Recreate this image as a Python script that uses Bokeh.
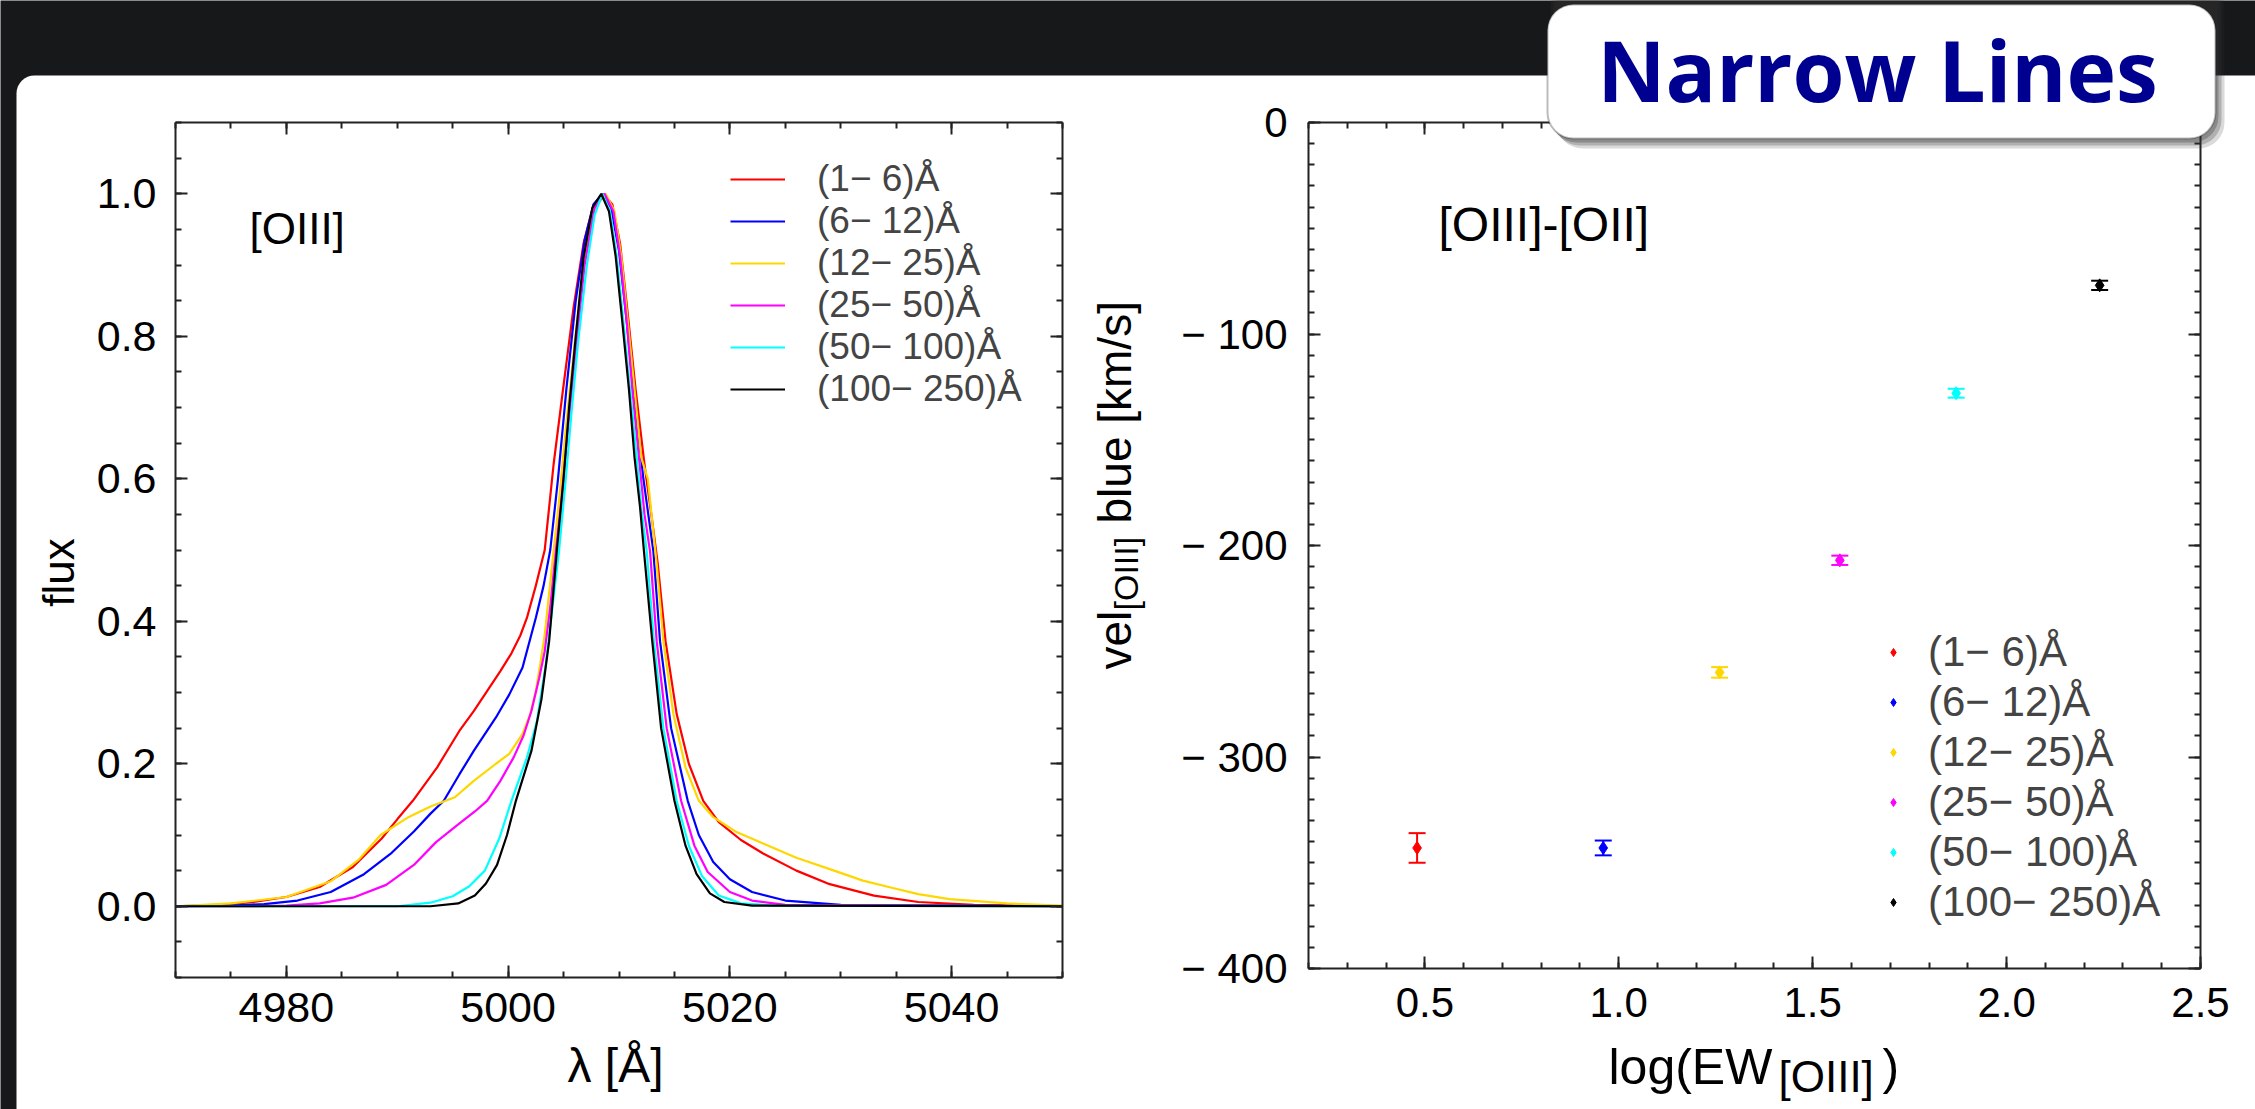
import numpy as np
from bokeh.plotting import figure
from bokeh.models import (ColumnDataSource, Legend, LegendItem, LinearAxis, FixedTicker,
                          Label, BoxAnnotation, Whisker, TeeHead, Range1d, NumeralTickFormatter)
from bokeh.embed import file_html
from bokeh.resources import INLINE

FONT = "Liberation Sans"
DARK = "#17181a"

# ---------------- data ----------------
bin_labels = ["(1− 6)Å", "(6− 12)Å", "(12− 25)Å", "(25− 50)Å", "(50− 100)Å", "(100− 250)Å"]
colors = ["#ff0000", "#0000ff", "#ffd700", "#ff00ff", "#00ffff", "#000000"]

# left panel: normalised [OIII] profiles (wavelength in Angstrom, flux)
wl_1_6 = [4970, 4974, 4977, 4980, 4983, 4986, 4988.6, 4990, 4991.4, 4993.6, 4995.6, 4996.9,
          4998.1, 4999.3, 5000.3, 5001.1, 5001.7, 5002.5, 5003.3, 5004.1, 5004.95, 5005.9,
          5006.8, 5007.7, 5008.6, 5009.4, 5010.1, 5010.8, 5011.5, 5012.3, 5013.0, 5013.5,
          5014.2, 5015.2, 5016.3, 5017.6, 5019, 5021, 5023, 5026, 5029, 5033, 5037, 5042, 5050]
fx_1_6 = [0.0, 0.002, 0.006, 0.013, 0.027, 0.055, 0.095, 0.122, 0.148, 0.195, 0.246, 0.274,
          0.302, 0.330, 0.355, 0.38, 0.405, 0.45, 0.50, 0.62, 0.725, 0.84,
          0.93, 0.985, 1.0, 0.985, 0.93, 0.83, 0.725, 0.62, 0.54, 0.48,
          0.372, 0.27, 0.20, 0.148, 0.118, 0.093, 0.074, 0.05, 0.031, 0.015, 0.006, 0.002, 0.0]

wl_6_12 = [4970, 4975, 4978, 4981, 4984, 4987, 4989.5, 4991.5, 4993, 4994.2, 4995.6, 4996.9,
           4998.9, 5000.1, 5001.3, 5002.5, 5003.2, 5003.8, 5004.5, 5005.25, 5006.1, 5006.9,
           5007.7, 5008.5, 5009.3, 5010.0, 5010.7, 5011.3, 5012.2, 5013.1, 5013.7, 5014.7,
           5016.2, 5017.2, 5018.5, 5020, 5022, 5025, 5030, 5050]
fx_6_12 = [0.0, 0.001, 0.003, 0.008, 0.02, 0.045, 0.075, 0.105, 0.13, 0.148, 0.185, 0.218,
           0.265, 0.297, 0.335, 0.405, 0.45, 0.50, 0.60, 0.725, 0.85, 0.935,
           0.985, 1.0, 0.98, 0.92, 0.82, 0.725, 0.6, 0.498, 0.372, 0.25,
           0.148, 0.10, 0.062, 0.038, 0.02, 0.008, 0.002, 0.0]

wl_12_25 = [4970, 4975, 4980, 4984, 4986.5, 4988.5, 4991, 4993, 4995.2, 4996.9, 4998.9, 5000.1,
            5001.3, 5002.0, 5002.5, 5002.9, 5003.3, 5003.7, 5004.1, 5004.6, 5005.2, 5006.0,
            5006.9, 5007.8, 5008.8, 5009.6, 5010.2, 5010.8, 5011.4, 5012.0, 5012.6, 5013.0,
            5013.4, 5014.0, 5014.9, 5016.0, 5017.2, 5018.5, 5020.5, 5023, 5026, 5029.4, 5032,
            5034.6, 5037, 5039.8, 5045, 5050]
fx_12_25 = [0.0, 0.004, 0.013, 0.035, 0.065, 0.10, 0.125, 0.14, 0.153, 0.176, 0.200, 0.214,
            0.242, 0.27, 0.302, 0.34, 0.381, 0.44, 0.498, 0.57, 0.67, 0.79,
            0.91, 0.98, 1.0, 0.975, 0.912, 0.82, 0.725, 0.63, 0.60, 0.54,
            0.48, 0.372, 0.27, 0.195, 0.148, 0.125, 0.105, 0.088, 0.068, 0.05, 0.036,
            0.026, 0.017, 0.01, 0.004, 0.001]

wl_25_50 = [4970, 4976, 4980, 4983, 4986, 4989, 4991.5, 4993.5, 4995.5, 4997, 4998.1, 4999.3,
            5000.5, 5001.4, 5002.1, 5002.8, 5003.3, 5003.8, 5004.3, 5004.8, 5005.4, 5006.1,
            5006.9, 5007.8, 5008.7, 5009.5, 5010.1, 5010.7, 5011.2, 5011.8, 5012.3, 5012.8,
            5013.4, 5014.3, 5015.6, 5016.8, 5018, 5020, 5022, 5025, 5050]
fx_25_50 = [0.0, 0.0, 0.001, 0.004, 0.012, 0.03, 0.058, 0.09, 0.115, 0.133, 0.148, 0.176,
            0.209, 0.24, 0.274, 0.32, 0.358, 0.42, 0.498, 0.57, 0.67, 0.78,
            0.90, 0.98, 1.0, 0.975, 0.912, 0.82, 0.725, 0.63, 0.55, 0.498,
            0.372, 0.25, 0.148, 0.085, 0.048, 0.02, 0.008, 0.002, 0.0]

wl_50_100 = [4970, 4990, 4993, 4995, 4996.5, 4997.9, 4999.2, 5000.3, 5001.7, 5002.6, 5003.4,
             5004.0, 5004.6, 5005.2, 5005.7, 5006.3, 5007.1, 5007.8, 5008.5, 5009.2, 5009.8,
             5010.4, 5011.0, 5011.6, 5012.0, 5012.5, 5013.15, 5014.0, 5015.2, 5016.3, 5017.5,
             5019, 5021, 5024, 5050]
fx_50_100 = [0.0, 0.0, 0.005, 0.014, 0.028, 0.05, 0.095, 0.148, 0.209, 0.26, 0.34,
             0.42, 0.50, 0.60, 0.69, 0.79, 0.90, 0.97, 1.0, 0.975, 0.912,
             0.82, 0.725, 0.63, 0.56, 0.498, 0.372, 0.25, 0.148, 0.085, 0.042,
             0.015, 0.004, 0.001, 0.0]

wl_100_250 = [4970, 4993, 4995.5, 4997, 4998, 4999, 4999.9, 5000.7, 5002.1, 5003.0, 5003.7, 5004.4,
              5005.0, 5005.5, 5006.1, 5006.8, 5007.6, 5008.4, 5009.1, 5009.7, 5010.3, 5010.9,
              5011.4, 5011.9, 5012.3, 5013.0, 5013.8, 5015.0, 5016.0, 5017.0, 5018.2, 5019.5,
              5022, 5050]
fx_100_250 = [0.0, 0.0, 0.004, 0.015, 0.032, 0.058, 0.10, 0.148, 0.218, 0.29, 0.372, 0.50,
              0.60, 0.70, 0.80, 0.91, 0.98, 1.0, 0.975, 0.912, 0.82, 0.725,
              0.63, 0.56, 0.49, 0.372, 0.25, 0.148, 0.085, 0.045, 0.018, 0.006,
              0.001, 0.0]

profiles_wl = [wl_1_6, wl_6_12, wl_12_25, wl_25_50, wl_50_100, wl_100_250]
profiles_fx = [fx_1_6, fx_6_12, fx_12_25, fx_25_50, fx_50_100, fx_100_250]

# right panel: blueshift of [OIII] relative to [OII] versus log EW
log_ew = [0.48, 0.96, 1.26, 1.57, 1.87, 2.24]
vel_blue = [-343, -343, -260, -207, -128, -77]
vel_err = [7, 3.5, 2.5, 2.2, 2.1, 2.2]

# ticks
lam_major = [4980, 5000, 5020, 5040]
lam_minor = list(range(4970, 5051, 5))
flux_major = [0.0, 0.2, 0.4, 0.6, 0.8, 1.0]
flux_minor = [round(-0.1 + 0.05 * i, 3) for i in range(25)]
ew_major = [0.5, 1.0, 1.5, 2.0, 2.5]
ew_minor = [round(0.2 + 0.1 * i, 2) for i in range(24)]
vel_major = [-400, -300, -200, -100, 0]
vel_minor = list(range(-400, 1, 10))
vel_tick_text = {-400: "− 400", -300: "− 300", -200: "− 200", -100: "− 100", 0: "0"}

# ---------------- layout geometry (canvas pixels, origin top-left) ----------------
CW, CH = 2255, 1109
L1, R1, T1, B1 = 175, 1062, 122, 977      # left plot frame
L2, R2, T2, B2 = 1308, 2200, 122, 968     # right plot frame


def span_range(a, b, lo_px, hi_px, total, flip=False):
    scale = (b - a) / (hi_px - lo_px)
    if flip:   # pixel rows run downward
        return Range1d(a - (total - hi_px) * scale, b + lo_px * scale)
    return Range1d(a - lo_px * scale, b + (total - hi_px) * scale)


def sx(page_x):
    return page_x


def sy(page_y):
    return CH - page_y


p = figure(width=CW, height=CH, output_backend="svg", toolbar_location=None,
           x_axis_type=None, y_axis_type=None,
           x_range=span_range(4970, 5050, L1, R1, CW),
           y_range=span_range(-0.1, 1.1, T1, B1, CH, flip=True),
           min_border=0, min_border_left=0, min_border_right=0,
           min_border_top=0, min_border_bottom=0)
p.extra_x_ranges = {"rx": span_range(0.2, 2.5, L2, R2, CW)}
p.extra_y_ranges = {"ry": span_range(-400, 0, T2, B2, CH, flip=True)}
p.background_fill_color = DARK
p.border_fill_color = DARK
p.outline_line_color = None
p.grid.visible = False

# white slide panel
p.add_layout(BoxAnnotation(left=16, right=CW + 200, top=CH - 75, bottom=-200,
                           left_units="screen", right_units="screen",
                           top_units="screen", bottom_units="screen",
                           fill_color="white", fill_alpha=1.0, line_color=None,
                           border_radius=18, level="image"))


def make_axis(side, major, minor, fixed, bounds, rx="default", ry="default",
              labels=True, size="43px", standoff=18, fmt=None):
    ax = LinearAxis(fixed_location=fixed, bounds=bounds, x_range_name=rx, y_range_name=ry)
    ax.ticker = FixedTicker(ticks=major, minor_ticks=minor)
    ax.major_tick_in = 12
    ax.major_tick_out = 0
    ax.minor_tick_in = 6
    ax.minor_tick_out = 0
    ax.axis_line_width = 2
    ax.major_tick_line_width = 2
    ax.minor_tick_line_width = 2
    ax.axis_line_color = "#222222"
    ax.major_tick_line_color = "#222222"
    ax.minor_tick_line_color = "#222222"
    ax.major_label_text_font = FONT
    ax.major_label_text_font_size = size
    ax.major_label_standoff = standoff
    if labels:
        ax.major_label_text_color = "black"
    else:
        ax.major_label_text_color = None
    if fmt is not None:
        ax.formatter = fmt
    p.add_layout(ax, side)
    return ax


# left plot axes
make_axis("below", lam_major, lam_minor, -0.1, (4970, 5050), standoff=15)
make_axis("above", lam_major, lam_minor, 1.1, (4970, 5050), labels=False)
make_axis("left", flux_major, flux_minor, 4970, (-0.1, 1.1), standoff=19,
          fmt=NumeralTickFormatter(format="0.0"))
make_axis("right", flux_major, flux_minor, 5050, (-0.1, 1.1), labels=False)

# right plot axes
make_axis("below", ew_major, ew_minor, -400, (0.2, 2.5), "rx", "ry", standoff=19, size="42px",
          fmt=NumeralTickFormatter(format="0.0"))
make_axis("above", ew_major, ew_minor, 0, (0.2, 2.5), "rx", "ry", labels=False)
ax_v = make_axis("left", vel_major, vel_minor, 0.2, (-400, 0), "rx", "ry", standoff=21, size="42px")
ax_v.major_label_overrides = vel_tick_text
make_axis("right", vel_major, vel_minor, 2.5, (-400, 0), "rx", "ry", labels=False)

# left plot profiles
items1 = []
for lbl, col, wl, fx in zip(bin_labels, colors, profiles_wl, profiles_fx):
    r = p.line(wl, fx, line_color=col, line_width=2.2)
    items1.append(LegendItem(label=lbl, renderers=[r]))
leg1 = Legend(items=items1, location=(sx(730), sy(410)), glyph_width=55, glyph_height=42,
              label_height=42, label_width=10, spacing=0, padding=0, margin=0, label_standoff=32,
              label_text_font=FONT, label_text_font_size="37px",
              border_line_color=None, background_fill_alpha=0)
p.add_layout(leg1)

# right plot points with error bars
items2 = []
for lbl, col, xv, yv, ev in zip(bin_labels, colors, log_ew, vel_blue, vel_err):
    src = ColumnDataSource(dict(x=[xv], y=[yv], lo=[yv - ev], hi=[yv + ev]))
    p.add_layout(Whisker(source=src, base="x", lower="lo", upper="hi", dimension="height",
                         x_range_name="rx", y_range_name="ry",
                         line_color=col, line_width=2,
                         lower_head=TeeHead(size=17, line_color=col, line_width=2),
                         upper_head=TeeHead(size=17, line_color=col, line_width=2),
                         level="glyph"))
    r = p.scatter("x", "y", source=src, marker="diamond", size=13, fill_color=col,
                  line_color=col, x_range_name="rx", y_range_name="ry")
    items2.append(LegendItem(label=lbl, renderers=[r]))
leg2 = Legend(items=items2, location=(sx(1883), sy(927)), glyph_width=20, glyph_height=50,
              label_height=50, label_width=10, spacing=0, padding=0, margin=0, label_standoff=25,
              label_text_font=FONT, label_text_font_size="42px",
              border_line_color=None, background_fill_alpha=0)
p.add_layout(leg2)

BASE_FIX = 0.37   # measured offset of the rendered baseline, in em


def text(t, x, y, size, angle=0.0, align="left", color="black", font=FONT, style="normal",
         level="annotation"):
    fs = float(size.replace("px", ""))
    if angle == 0.0:
        y = y - BASE_FIX * fs
    p.add_layout(Label(x=sx(x), y=sy(y), x_units="screen", y_units="screen", text=t,
                       angle=angle, text_font=font, text_font_size=size, text_font_style=style,
                       text_color=color, text_align=align, text_baseline="alphabetic",
                       level=level))


# left plot texts
text("[OIII]", 249, 244, "44px")
text("λ [Å]", 615, 1083, "48px", align="center")
text("flux", 58, 572, "44px", angle=np.pi / 2, align="center")

# right plot texts
text("[OIII]-[OII]", 1438, 242, "48px")
text("log(EW", 1608, 1085, "50px")
text("[OIII]", 1778, 1092, "44px")
text(")", 1882, 1085, "50px")
text("vel", 1114, 669, "46px", angle=np.pi / 2)
text("[OIII]", 1125, 610, "34px", angle=np.pi / 2)
text("blue [km/s]", 1114, 523, "46px", angle=np.pi / 2)

# "Narrow Lines" call-out with soft shadow
for dx, dy, a in [(9, 10, 0.18), (6, 7, 0.25), (3, 4, 0.3)]:
    p.add_layout(BoxAnnotation(left=sx(1547 + dx), right=sx(2215 + dx), top=sy(-20), bottom=sy(138 + dy),
                               left_units="screen", right_units="screen",
                               top_units="screen", bottom_units="screen",
                               fill_color="#333333", fill_alpha=a, line_color=None,
                               border_radius=26, level="overlay"))
p.add_layout(BoxAnnotation(left=sx(1547), right=sx(2215), top=sy(4), bottom=sy(138),
                           left_units="screen", right_units="screen",
                           top_units="screen", bottom_units="screen",
                           fill_color="white", fill_alpha=1.0, line_color="#222222",
                           line_width=2, border_radius=26, level="overlay"))
text("Narrow Lines", 1877, 100, "84px", align="center", color="#000090", font="Open Sans",
     style="bold", level="overlay")

open("out.html", "w").write(file_html(p, INLINE))
